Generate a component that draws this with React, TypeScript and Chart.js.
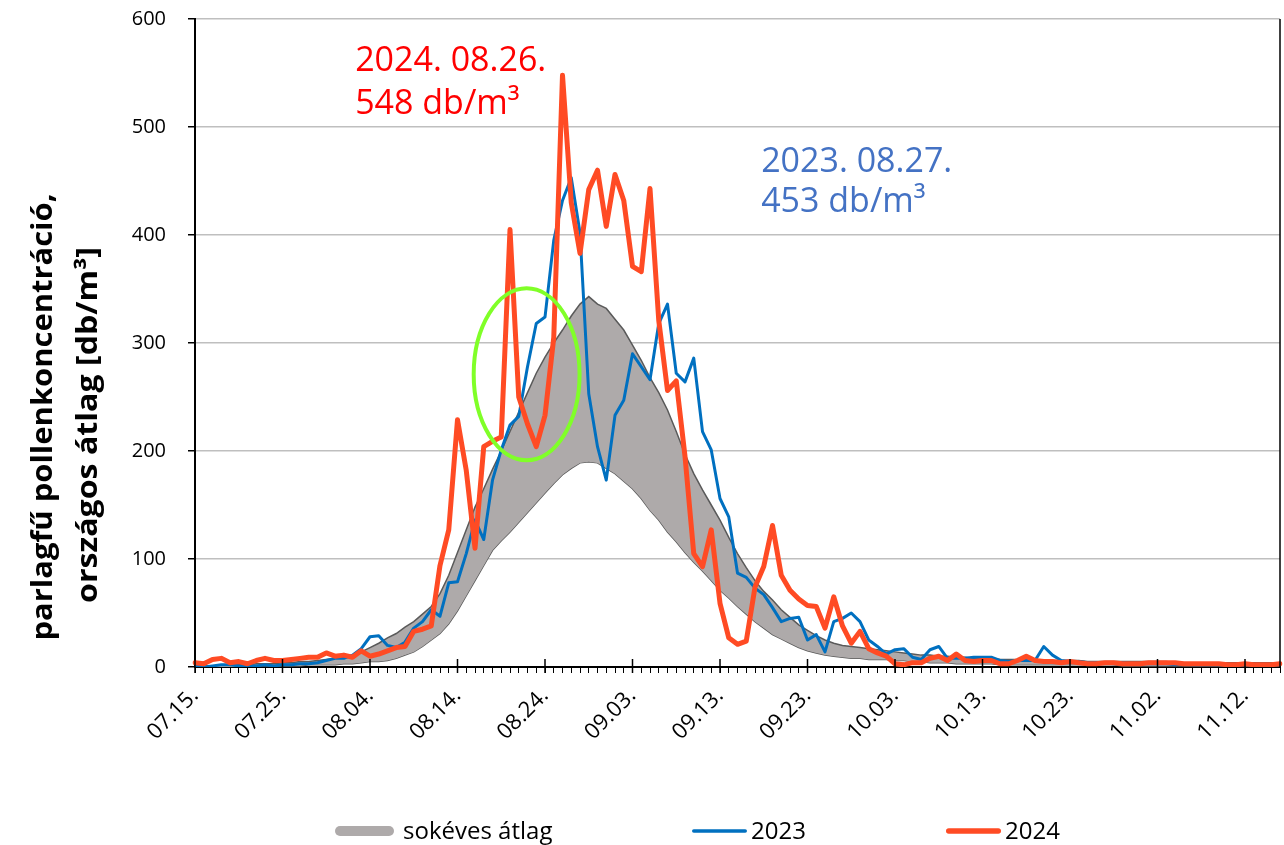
import React, { useEffect, useRef } from 'react';
import { Chart, registerables } from 'chart.js';

Chart.register(...registerables);

const FONT = '"Open Sans", "Liberation Sans", sans-serif';

// Categories: daily dates 07.15. – 11.16.
const dates = [
  '07.15.', '07.16.', '07.17.', '07.18.', '07.19.', '07.20.', '07.21.', '07.22.', '07.23.', '07.24.',
  '07.25.', '07.26.', '07.27.', '07.28.', '07.29.', '07.30.', '07.31.',
  '08.01.', '08.02.', '08.03.', '08.04.', '08.05.', '08.06.', '08.07.', '08.08.', '08.09.', '08.10.',
  '08.11.', '08.12.', '08.13.', '08.14.', '08.15.', '08.16.', '08.17.', '08.18.', '08.19.', '08.20.',
  '08.21.', '08.22.', '08.23.', '08.24.', '08.25.', '08.26.', '08.27.', '08.28.', '08.29.', '08.30.', '08.31.',
  '09.01.', '09.02.', '09.03.', '09.04.', '09.05.', '09.06.', '09.07.', '09.08.', '09.09.', '09.10.',
  '09.11.', '09.12.', '09.13.', '09.14.', '09.15.', '09.16.', '09.17.', '09.18.', '09.19.', '09.20.',
  '09.21.', '09.22.', '09.23.', '09.24.', '09.25.', '09.26.', '09.27.', '09.28.', '09.29.', '09.30.',
  '10.01.', '10.02.', '10.03.', '10.04.', '10.05.', '10.06.', '10.07.', '10.08.', '10.09.', '10.10.',
  '10.11.', '10.12.', '10.13.', '10.14.', '10.15.', '10.16.', '10.17.', '10.18.', '10.19.', '10.20.',
  '10.21.', '10.22.', '10.23.', '10.24.', '10.25.', '10.26.', '10.27.', '10.28.', '10.29.', '10.30.', '10.31.',
  '11.01.', '11.02.', '11.03.', '11.04.', '11.05.', '11.06.', '11.07.', '11.08.', '11.09.', '11.10.',
  '11.11.', '11.12.', '11.13.', '11.14.', '11.15.', '11.16.',
];

const series2023 = [
  1, 0, 1, 2, 2, 1, 1, 1, 2, 1,
  2, 2, 3, 3, 4, 6, 8, 8, 11, 17,
  28, 29, 20, 18, 23, 36, 42, 53, 47, 78,
  79, 105, 136, 118, 173, 201, 224, 232, 278, 318,
  324, 395, 432, 453, 402, 253, 204, 173, 233, 247,
  290, 278, 266, 318, 336, 272, 264, 286, 218, 201,
  156, 139, 87, 83, 73, 67, 55, 42, 45, 46,
  25, 30, 14, 42, 45, 50, 42, 25, 19, 12,
  16, 17, 9, 7, 16, 19, 8, 8, 8, 9,
  9, 9, 6, 5, 6, 6, 6, 19, 11, 6,
  5, 5, 4, 4, 4, 3, 4, 3, 3, 3,
  3, 3, 2, 3, 2, 2, 2, 2, 2, 2,
  2, 2, 2, 2, 2,
];

const series2024 = [
  4, 3, 7, 8, 4, 5, 3, 6, 8, 6,
  6, 7, 8, 9, 9, 13, 10, 11, 9, 15,
  10, 12, 15, 18, 19, 33, 35, 38, 94, 127,
  229, 182, 110, 204, 209, 213, 405, 250, 225, 204,
  233, 305, 548, 430, 383, 442, 460, 408, 456, 432,
  371, 366, 443, 321, 256, 265, 195, 105, 93, 127,
  59, 27, 21, 24, 74, 93, 131, 85, 71, 63,
  57, 56, 36, 65, 38, 22, 33, 17, 13, 10,
  3, 2, 4, 4, 8, 10, 6, 12, 6, 5,
  6, 6, 3, 3, 6, 10, 6, 5, 5, 4,
  5, 4, 3, 3, 4, 4, 3, 3, 3, 4,
  4, 4, 4, 3, 3, 3, 3, 3, 2, 2,
  3, 2, 2, 2, 3,
];

// Long-term average band (lower and upper edge)
const avgLower = [
  0, 0, 0, 0, 0, 0, 0, 1, 1, 1,
  1, 1, 1, 2, 2, 2, 2, 3, 3, 4,
  5, 5, 6, 8, 11, 14, 19, 25, 31, 40,
  52, 66, 80, 94, 108, 117, 125, 134, 143, 152,
  161, 170, 178, 184, 189, 190, 189, 184, 179, 172,
  165, 156, 145, 136, 125, 116, 106, 97, 89, 80,
  71, 64, 56, 49, 42, 36, 30, 26, 22, 18,
  15, 13, 11, 10, 9, 8, 8, 7, 7, 7,
  6, 6, 5, 5, 4, 4, 4, 3, 3, 3,
  3, 3, 2, 2, 2, 2, 2, 2, 2, 2,
  2, 2, 2, 2, 2, 2, 1, 1, 1, 1,
  1, 1, 1, 1, 1, 1, 1, 1, 1, 1,
  1, 1, 1, 1, 1,
];

const avgUpper = [
  1, 1, 1, 2, 2, 2, 2, 3, 3, 3,
  4, 4, 5, 5, 6, 7, 8, 10, 11, 14,
  18, 22, 27, 31, 37, 42, 49, 56, 68, 85,
  106, 127, 148, 165, 183, 200, 218, 236, 254, 272,
  287, 300, 312, 325, 336, 343, 336, 332, 322, 312,
  298, 284, 268, 254, 238, 218, 197, 179, 164, 150,
  136, 120, 105, 92, 80, 70, 62, 53, 46, 39,
  34, 29, 25, 22, 20, 19, 18, 17, 16, 15,
  14, 13, 12, 11, 11, 10, 10, 9, 9, 8,
  8, 8, 7, 7, 7, 7, 6, 6, 6, 6,
  6, 6, 5, 5, 5, 5, 5, 5, 5, 5,
  5, 5, 4, 4, 4, 4, 4, 4, 4, 4,
  4, 4, 4, 4, 4,
];

const Y_MIN = 0;
const Y_MAX = 600;
const Y_STEP = 100;
const MAJOR_EVERY = 10;

const LABEL_AVG = 'sokéves átlag';
const LABEL_2023 = '2023';
const LABEL_2024 = '2024';

const yTitleLines = ['parlagfű pollenkoncentráció,', 'országos átlag [db/m³]'];

// Peak notes, anchored in data units (category index, value of baseline)
const peakNotes = [
  { lines: ['2024. 08.26.', '548 db/m³'], color: '#FF0000', at: 18.3, baselines: [552, 512] },
  { lines: ['2023. 08.27.', '453 db/m³'], color: '#4472C4', at: 64.7, baselines: [458, 421] },
];

// Highlight ellipse, in data units
const highlight = { center: 37.9, value: 271, halfDays: 6.05, halfValue: 79.6 };

// Layout (pixels)
const titleLayout = [
  { cx: 44, cy: 417, len: 447 },
  { cx: 89, cy: 425, len: 356 },
];
const legendLayout = {
  y: 831,
  items: [
    { x0: 335, x1: 394, textX: 403, width: 10 },
    { x0: 692, x1: 747, textX: 751, width: 3.5 },
    { x0: 946, x1: 1001, textX: 1005, width: 5.5 },
  ],
};

const COLOR_AVG_FILL = '#AEAAAA';
const COLOR_AVG_EDGE = '#5A5A5A';
const COLOR_2023 = '#0070C0';
const COLOR_2024 = '#FF4B24';

const decorPlugin = {
  id: 'decor',
  afterDatasetsDraw(chart: any) {
    const { ctx, scales } = chart;
    const x = scales.x;
    const y = scales.y;
    const cx = x.getPixelForValue(highlight.center);
    const rx = Math.abs(x.getPixelForValue(highlight.center + highlight.halfDays) - cx);
    const cy = y.getPixelForValue(highlight.value);
    const ry = Math.abs(y.getPixelForValue(highlight.value + highlight.halfValue) - cy);
    ctx.save();
    ctx.beginPath();
    ctx.ellipse(cx, cy, rx, ry, 0, 0, Math.PI * 2);
    ctx.strokeStyle = '#80FF28';
    ctx.lineWidth = 4;
    ctx.stroke();
    ctx.restore();
  },
  afterDraw(chart: any) {
    const { ctx, chartArea, scales } = chart;
    const x = scales.x;
    const y = scales.y;
    ctx.save();

    // major ticks on the category axis
    ctx.strokeStyle = '#000';
    ctx.lineWidth = 1.5;
    for (let i = 0; i < dates.length; i += MAJOR_EVERY) {
      const px = x.getPixelForValue(i);
      ctx.beginPath();
      ctx.moveTo(px, chartArea.bottom - 8);
      ctx.lineTo(px, chartArea.bottom + 6);
      ctx.stroke();
    }
    // right border
    ctx.beginPath();
    ctx.moveTo(chartArea.right, chartArea.top);
    ctx.lineTo(chartArea.right, chartArea.bottom);
    ctx.stroke();

    // y axis title (two lines, rotated)
    ctx.fillStyle = '#000';
    ctx.font = `bold 28px ${FONT}`;
    ctx.textAlign = 'center';
    ctx.textBaseline = 'middle';
    yTitleLines.forEach((line, i) => {
      const l = titleLayout[i];
      const w = ctx.measureText(line).width;
      ctx.save();
      ctx.translate(l.cx, l.cy);
      ctx.rotate(-Math.PI / 2);
      ctx.scale(l.len / w, 1);
      ctx.fillText(line, 0, 0);
      ctx.restore();
    });

    // peak notes
    ctx.font = `34px ${FONT}`;
    ctx.textAlign = 'left';
    ctx.textBaseline = 'alphabetic';
    peakNotes.forEach((n) => {
      ctx.fillStyle = n.color;
      const px = x.getPixelForValue(n.at);
      n.lines.forEach((t, i) => {
        ctx.fillText(t, px, y.getPixelForValue(n.baselines[i]));
      });
    });

    // legend
    const ds = chart.data.datasets;
    const legendSets = [ds[1], ds[2], ds[3]];
    ctx.font = `24px ${FONT}`;
    ctx.textBaseline = 'middle';
    legendLayout.items.forEach((it, i) => {
      const d = legendSets[i];
      const col = i === 0 ? d.backgroundColor : d.borderColor;
      ctx.strokeStyle = col;
      ctx.lineWidth = it.width;
      ctx.lineCap = 'round';
      ctx.beginPath();
      ctx.moveTo(it.x0 + it.width / 2, legendLayout.y);
      ctx.lineTo(it.x1 - it.width / 2, legendLayout.y);
      ctx.stroke();
      ctx.fillStyle = '#000';
      ctx.fillText(d.label, it.textX, legendLayout.y + 1);
    });

    ctx.restore();
  },
};

export default function App() {
  const ref = useRef<HTMLCanvasElement>(null);

  useEffect(() => {
    document.body.style.margin = '0';
    const canvas = ref.current;
    if (!canvas) return;
    const chart = new Chart(canvas, {
      type: 'line',
      data: {
        labels: dates,
        datasets: [
          {
            label: 'lower',
            data: avgLower,
            borderColor: COLOR_AVG_EDGE,
            borderWidth: 1.5,
            pointRadius: 0,
            fill: false,
            order: 4,
          },
          {
            label: LABEL_AVG,
            data: avgUpper,
            borderColor: COLOR_AVG_EDGE,
            borderWidth: 1.5,
            backgroundColor: COLOR_AVG_FILL,
            pointRadius: 0,
            fill: '-1',
            order: 3,
          },
          {
            label: LABEL_2023,
            data: series2023,
            borderColor: COLOR_2023,
            borderWidth: 3,
            pointRadius: 0,
            fill: false,
            borderJoinStyle: 'round',
            order: 2,
          },
          {
            label: LABEL_2024,
            data: series2024,
            borderColor: COLOR_2024,
            borderWidth: 5,
            pointRadius: 0,
            fill: false,
            borderJoinStyle: 'round',
            borderCapStyle: 'round',
            order: 1,
          },
        ],
      },
      options: {
        responsive: false,
        maintainAspectRatio: false,
        animation: false,
        devicePixelRatio: 1,
        layout: { padding: { top: 19, right: 4, left: 0, bottom: 0 } },
        plugins: {
          legend: { display: false },
          tooltip: { enabled: false },
          title: { display: false },
        },
        scales: {
          x: {
            type: 'category',
            offset: false,
            afterFit: (s: any) => {
              s.height = 178;
              s.paddingLeft = 0;
              s.paddingRight = 0;
            },
            border: { color: '#000', width: 2 },
            grid: {
              drawOnChartArea: false,
              drawTicks: true,
              tickLength: 6,
              color: '#000',
              lineWidth: 1,
            },
            ticks: {
              autoSkip: false,
              maxRotation: 45,
              minRotation: 45,
              padding: 10,
              color: '#000',
              font: { family: FONT, size: 22 },
              callback: (_v: any, i: number) => (i % MAJOR_EVERY === 0 ? dates[i] : ''),
            },
          },
          y: {
            min: Y_MIN,
            max: Y_MAX,
            afterFit: (s: any) => {
              s.width = 195;
              s.paddingTop = 0;
              s.paddingBottom = 0;
            },
            border: { color: '#000', width: 2 },
            grid: {
              color: '#BFBFBF',
              lineWidth: 1.5,
              drawTicks: true,
              tickLength: 7,
              tickColor: '#000',
            },
            ticks: {
              stepSize: Y_STEP,
              padding: 22,
              color: '#000',
              font: { family: FONT, size: 20 },
            },
          },
        },
      },
      plugins: [decorPlugin],
    } as any);
    return () => chart.destroy();
  }, []);

  return (
    <div style={{ width: 1284, height: 845, background: '#fff' }}>
      <canvas ref={ref} width={1284} height={845} style={{ display: 'block', width: 1284, height: 845 }} />
    </div>
  );
}
